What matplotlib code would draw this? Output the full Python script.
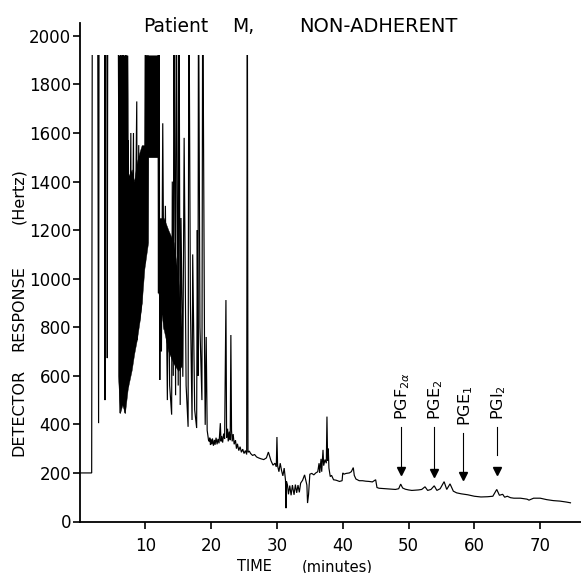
import matplotlib
matplotlib.use("Agg")
import matplotlib.pyplot as plt
from matplotlib.patches import Rectangle

# ---------------- data ----------------
# chromatogram trace, (time [min], detector response [Hz]); values >1920 are off-scale
seg_start = [(0.0, 200), (1.85, 200), (1.95, 2300), (2.75, 2300), (2.9, 405), (2.98, 2300),
             (3.8, 2300), (3.87, 500), (3.94, 2300), (4.15, 2300), (4.22, 673), (4.3, 2300),
             (5.85, 2300)]
seg_band = [(6.15, 446), (6.25, 2300), (6.5, 480), (6.6, 2300), (6.9, 446), (7.0, 2300),
            (7.37, 553), (7.42, 1570), (7.5, 600), (7.8, 1600), (7.88, 624), (8.2, 1600),
            (8.3, 700), (8.7, 1730), (8.78, 747), (9.0, 1550), (9.1, 820), (9.45, 899),
            (9.55, 1500), (9.95, 1063), (10.0, 2300), (10.35, 1146), (10.42, 2300), (11.9, 2300)]
seg_forest = [(12.0, 940), (12.08, 2300), (12.2, 583), (12.3, 1200), (12.45, 700), (12.65, 1640),
              (12.85, 790), (13.05, 1300), (13.35, 500), (13.5, 1100), (13.7, 560), (14.0, 440),
              (14.1, 1400), (14.25, 600), (14.35, 2300), (14.6, 520), (14.7, 2300), (15.0, 560),
              (15.12, 2300), (15.3, 480), (15.42, 1250), (15.7, 596), (15.9, 1580), (16.2, 560),
              (16.5, 390), (16.62, 2300), (16.85, 900), (17.1, 418), (17.2, 1100), (17.5, 460),
              (17.8, 385), (17.9, 1200), (18.0, 600), (18.08, 2300), (18.3, 800), (18.6, 500),
              (18.72, 2300), (19.0, 700), (19.1, 398), (19.25, 760), (19.4, 375), (19.6, 336)]
seg_mid = [(19.7, 330), (19.8, 345), (19.9, 315), (20.0, 338), (20.1, 318), (20.2, 342),
           (20.35, 312), (20.5, 336), (20.6, 316), (20.75, 345), (20.9, 318), (21.05, 340),
           (21.2, 322), (21.4, 405), (21.5, 330), (21.6, 352), (21.75, 325), (21.9, 362),
           (22.05, 340), (22.25, 912), (22.35, 345), (22.5, 382), (22.6, 330), (22.75, 370),
           (22.9, 335), (23.0, 768), (23.1, 375), (23.2, 330), (23.35, 360), (23.5, 318),
           (23.7, 335), (23.85, 300), (24.0, 320), (24.2, 292), (24.4, 308), (24.6, 285),
           (24.8, 298), (25.0, 280), (25.2, 292), (25.4, 276), (25.5, 2300), (25.6, 285),
           (25.8, 290), (26.0, 280), (26.3, 272), (26.6, 276), (26.9, 266), (27.2, 262),
           (27.6, 258), (28.0, 255), (28.4, 262), (28.7, 286), (28.9, 268), (29.1, 250),
           (29.4, 232), (29.7, 240), (29.9, 225), (30.0, 348), (30.1, 230), (30.3, 205),
           (30.5, 240), (30.7, 210), (30.9, 188), (31.1, 220), (31.3, 170), (31.38, 55),
           (31.45, 165), (31.6, 150), (31.75, 112), (31.95, 148), (32.15, 108), (32.35, 150),
           (32.6, 110), (32.8, 152), (33.0, 118), (33.2, 150), (33.4, 120), (33.6, 158),
           (33.9, 170), (34.2, 192), (34.55, 150), (34.65, 76), (34.8, 110), (35.0, 195),
           (35.3, 198), (35.6, 192), (35.9, 200), (36.2, 205), (36.4, 240), (36.5, 200),
           (36.7, 258), (36.8, 205), (37.0, 295), (37.1, 230), (37.3, 255), (37.5, 240),
           (37.6, 432), (37.7, 250), (37.8, 300), (37.9, 220), (38.1, 185), (38.3, 190),
           (38.6, 172), (39.0, 170), (39.5, 165), (39.9, 168)]
seg_tail = [(40.0, 200), (40.2, 195), (40.5, 198), (41.0, 200), (41.3, 205), (41.6, 222),
            (41.75, 190), (42.0, 175), (42.5, 168), (43.0, 168), (43.5, 166), (44.0, 165),
            (44.5, 163), (45.0, 172), (45.2, 140), (45.5, 137), (46.0, 136), (46.5, 135),
            (47.0, 134), (47.5, 133), (48.0, 132), (48.5, 135), (48.8, 154), (49.1, 138),
            (49.5, 133), (50.0, 130), (50.5, 128), (51.0, 129), (51.5, 130), (52.0, 132),
            (52.5, 143), (52.9, 128), (53.4, 132), (53.9, 147), (54.3, 128), (54.8, 135),
            (55.4, 164), (55.8, 132), (56.3, 155), (56.8, 125), (57.3, 118), (58.0, 114),
            (59.0, 110), (60.0, 104), (61.0, 101), (62.0, 102), (62.8, 104), (63.4, 132),
            (63.8, 108), (64.3, 112), (64.6, 100), (65.0, 104), (65.5, 98), (66.0, 96),
            (67.0, 96), (68.0, 92), (68.3, 88), (69.0, 96), (70.0, 96), (71.0, 90),
            (72.0, 86), (73.0, 84), (74.0, 80), (74.6, 77)]

# unresolved (solid black) mass of peaks
mass_time = [5.85, 6.15, 6.5, 6.9, 7.3, 7.37, 7.93, 8.3, 8.7, 9.1, 9.45, 9.85, 9.9,
             10.4, 10.45, 11.9, 12.0, 12.8, 13.5, 14.3, 15.0, 15.5]
mass_low = [600, 446, 480, 446, 540, 553, 624, 690, 747, 820, 899, 1040, 1050,
            1146, 1500, 1500, 940, 790, 700, 650, 620, 640]
mass_high = [1920, 1920, 1920, 1920, 1920, 1420, 1450, 1400, 1480, 1520, 1550, 1550, 1920,
             1920, 1920, 1920, 1250, 1250, 1200, 1150, 1000, 800]
pen_limit = 1920

# marked prostaglandins
pg_labels = [r"PGF$_{2\alpha}$", r"PGE$_2$", r"PGE$_1$", r"PGI$_2$"]
pg_times = [48.8, 53.8, 58.3, 63.4]
pg_tip = [192, 185, 175, 192]

x_ticks = [10, 20, 30, 40, 50, 60, 70]
y_ticks = [0, 200, 400, 600, 800, 1000, 1200, 1400, 1600, 1800, 2000]

# ---------------- figure ----------------
W, H = 581, 573
fig = plt.figure(figsize=(W / 100, H / 100), dpi=100)
ax = fig.add_axes([79.5 / W, 51.5 / H, 1 - 79.5 / W, 498.5 / H])
ax.set_xlim(0, 76.2)
ax.set_ylim(0, 2053)

trace = seg_start + seg_band + seg_forest + seg_mid + seg_tail
tt = [p[0] for p in trace]
vv = [p[1] for p in trace]
line, = ax.plot(tt, vv, color="black", lw=0.85, solid_joinstyle="miter")
clip = Rectangle((0, 0), 80, pen_limit, transform=ax.transData)
line.set_clip_path(clip)
ax.fill_between(mass_time, mass_low, mass_high, facecolor="black", edgecolor="black", lw=0.3)

# arrows for prostaglandins
shaft_top = [389, 389, 365, 389]
shaft_bot = [212, 212, 200, 274]
text_bottom = [418, 418, 393, 418]
for lab, t, tip, st, sb, tb in zip(pg_labels, pg_times, pg_tip, shaft_top, shaft_bot, text_bottom):
    ax.plot([t, t], [sb, st], color="black", lw=0.8)
    ax.plot([t], [tip + 14], marker="v", color="black", markersize=5.5)
    ax.text(t + 0.35, tb, lab, rotation=90, ha="center", va="bottom", fontsize=11.5)

# axes styling
for s in ("top", "right"):
    ax.spines[s].set_visible(False)
for s in ("left", "bottom"):
    ax.spines[s].set_linewidth(1.3)
ax.set_xticks(x_ticks)
ax.set_xticklabels([str(x) for x in x_ticks])
ax.set_yticks(y_ticks)
ax.set_yticklabels([str(y) for y in y_ticks])
ax.tick_params(axis="both", direction="out", length=4.7, width=1.2, labelsize=12)
ax.tick_params(axis="x", pad=6.5)
ax.tick_params(axis="y", pad=1.5)

# title
fig.text(176 / W, 1 - 32 / H, "Patient", ha="center", va="baseline", fontsize=13.5)
fig.text(243.5 / W, 1 - 32 / H, "M,", ha="center", va="baseline", fontsize=13.5)
fig.text(378.5 / W, 1 - 32 / H, "NON-ADHERENT", ha="center", va="baseline", fontsize=14)

# y label
fig.text(19 / W, 1 - 412.5 / H, "DETECTOR", rotation=90, ha="center", va="center", fontsize=11.5)
fig.text(19 / W, 1 - 308.5 / H, "RESPONSE", rotation=90, ha="center", va="center", fontsize=11.5)
fig.text(19 / W, 1 - 196.5 / H, "(Hertz)", rotation=90, ha="center", va="center", fontsize=11.5)

# x label
fig.text(254.5 / W, 1 - 571 / H, "TIME", ha="center", va="baseline", fontsize=10.5)
fig.text(337 / W, 1 - 571 / H, "(minutes)", ha="center", va="baseline", fontsize=10.5)

fig.savefig("out.png", dpi=100)
